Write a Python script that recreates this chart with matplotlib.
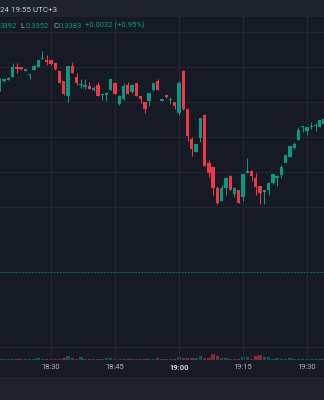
import numpy as np
import matplotlib
matplotlib.use("Agg")
import matplotlib.pyplot as plt
from matplotlib.patches import Rectangle

# ---- data (1-minute candles, 18:18 .. 19:34) ----
first_minute = -12          # minutes relative to 18:30
opens = [0.33860, 0.33869, 0.33870, 0.33873, 0.33883, 0.33883, 0.33879, 0.33875, 0.33880, 0.33883,
         0.33891, 0.33890, 0.33890, 0.33887, 0.33879, 0.33869, 0.33854, 0.33884, 0.33873, 0.33865,
         0.33863, 0.33864, 0.33860, 0.33865, 0.33855, 0.33855, 0.33860, 0.33867, 0.33846, 0.33851,
         0.33865, 0.33858, 0.33867, 0.33854, 0.33848, 0.33849, 0.33860, 0.33869, 0.33849, 0.33855,
         0.33850, 0.33848, 0.33837, 0.33879, 0.33841, 0.33811, 0.33798, 0.33812, 0.33835, 0.33787,
         0.33783, 0.33762, 0.33749, 0.33762, 0.33774, 0.33756, 0.33760, 0.33753, 0.33777, 0.33779,
         0.33772, 0.33764, 0.33758, 0.33760, 0.33767, 0.33772, 0.33775, 0.33787, 0.33793, 0.33802,
         0.33810, 0.33823, 0.33819, 0.33823, 0.33824, 0.33823, 0.33826]
highs = [0.33872, 0.33871, 0.33873, 0.33887, 0.33887, 0.33883, 0.33881, 0.33876, 0.33885, 0.33890,
         0.33899, 0.33895, 0.33890, 0.33887, 0.33879, 0.33869, 0.33884, 0.33888, 0.33877, 0.33871,
         0.33871, 0.33868, 0.33864, 0.33868, 0.33856, 0.33858, 0.33871, 0.33868, 0.33855, 0.33867,
         0.33868, 0.33866, 0.33867, 0.33854, 0.33848, 0.33857, 0.33867, 0.33871, 0.33851, 0.33855,
         0.33853, 0.33848, 0.33869, 0.33880, 0.33841, 0.33813, 0.33806, 0.33832, 0.33836, 0.33790,
         0.33783, 0.33764, 0.33765, 0.33773, 0.33775, 0.33763, 0.33760, 0.33776, 0.33792, 0.33780,
         0.33777, 0.33764, 0.33760, 0.33768, 0.33776, 0.33775, 0.33785, 0.33795, 0.33804, 0.33808,
         0.33823, 0.33824, 0.33823, 0.33828, 0.33827, 0.33830, 0.33832]
lows = [0.33859, 0.33868, 0.33870, 0.33873, 0.33877, 0.33880, 0.33879, 0.33871, 0.33880, 0.33883,
        0.33891, 0.33885, 0.33885, 0.33880, 0.33867, 0.33855, 0.33848, 0.33877, 0.33865, 0.33862,
        0.33861, 0.33861, 0.33859, 0.33854, 0.33850, 0.33849, 0.33860, 0.33856, 0.33845, 0.33850,
        0.33856, 0.33857, 0.33854, 0.33847, 0.33837, 0.33844, 0.33859, 0.33860, 0.33849, 0.33852,
        0.33846, 0.33841, 0.33835, 0.33840, 0.33809, 0.33794, 0.33798, 0.33808, 0.33784, 0.33773,
        0.33755, 0.33746, 0.33749, 0.33755, 0.33760, 0.33753, 0.33747, 0.33749, 0.33777, 0.33769,
        0.33755, 0.33746, 0.33746, 0.33755, 0.33766, 0.33764, 0.33772, 0.33787, 0.33793, 0.33801,
        0.33810, 0.33818, 0.33815, 0.33821, 0.33819, 0.33823, 0.33825]
closes = [0.33869, 0.33871, 0.33872, 0.33883, 0.33881, 0.33881, 0.33881, 0.33876, 0.33884, 0.33890,
          0.33892, 0.33888, 0.33886, 0.33881, 0.33867, 0.33856, 0.33884, 0.33877, 0.33867, 0.33866,
          0.33865, 0.33861, 0.33862, 0.33854, 0.33855, 0.33857, 0.33871, 0.33856, 0.33854, 0.33864,
          0.33856, 0.33865, 0.33854, 0.33851, 0.33841, 0.33857, 0.33867, 0.33860, 0.33851, 0.33853,
          0.33850, 0.33844, 0.33867, 0.33841, 0.33814, 0.33801, 0.33806, 0.33832, 0.33784, 0.33777,
          0.33762, 0.33747, 0.33762, 0.33772, 0.33760, 0.33762, 0.33747, 0.33776, 0.33779, 0.33774,
          0.33763, 0.33757, 0.33760, 0.33767, 0.33776, 0.33774, 0.33783, 0.33795, 0.33804, 0.33806,
          0.33820, 0.33823, 0.33823, 0.33823, 0.33824, 0.33830, 0.33831]
volumes = [1, 1, 1, 1.5, 1, 1, 1, 1, 1, 2,
           1.5, 1.5, 1, 1, 1, 2, 4.5, 2, 1.5, 3,
           1, 1, 1, 1.5, 1, 2, 2, 1, 1, 1,
           1, 1, 1.5, 1.5, 1, 1, 1, 2.5, 1, 1,
           1, 1, 3, 2, 2, 2, 2.5, 4, 2.5, 2.5,
           6, 4, 2.5, 2.5, 1, 1, 1.5, 3, 3, 1.5,
           4, 5, 3, 3, 1, 2, 1, 1, 2, 1,
           1.5, 1, 1, 1, 1, 1.5, 1]
tick_minutes = [0, 15, 30, 45, 60]
tick_labels = ["18:30", "18:45", "19:00", "19:15", "19:30"]
grid_prices = [0.33918, 0.33883, 0.33848, 0.33813, 0.33778, 0.33743, 0.33603]
prev_close = 0.33678
header_text = "24 19:55 UTC+3"
legend_parts = [("3392", "up"), ("L", "lab"), ("0.3352", "up"), ("C", "lab"),
                ("0.3383", "up"), ("+0.0032 (+0.95%)", "up")]

# ---- style ----
BG = "#161a25"
HEAD = "#1e222d"
GRID = "#232734"
UP = "#089981"
DOWN = "#f23645"
TXT = "#b2b5be"

plt.rcParams["font.family"] = ["Roboto", "DejaVu Sans"]

W, H = 324, 400
fig = plt.figure(figsize=(W / 100, H / 100), dpi=100, facecolor=BG)
fig.patches.append(Rectangle((0, 1 - 17 / H), 1, 17 / H, transform=fig.transFigure,
                             facecolor=HEAD, edgecolor="none", zorder=0))
fig.patches.append(Rectangle((0, 0), 1, 23 / H, transform=fig.transFigure,
                             facecolor="#1f222d", edgecolor="none", zorder=0))

rect = [0, 40 / H, 1, 343 / H]
vax = fig.add_axes(rect)
vax.set_facecolor(BG)
ax = fig.add_axes(rect, sharex=vax)
ax.patch.set_visible(False)

opens_a = np.array(opens)
closes_a = np.array(closes)
highs_a = np.array(highs)
lows_a = np.array(lows)
x = np.arange(len(opens)) + first_minute
up = closes_a >= opens_a
colors = np.where(up, UP, DOWN)

# volume
vax.bar(x, volumes, width=0.82, color=colors, alpha=0.5, linewidth=0)
vax.set_ylim(0, 343)
vax.set_yticks([])
for s in vax.spines.values():
    s.set_visible(False)
vax.tick_params(axis="x", length=0, labelbottom=False)

# grid
for gp in grid_prices:
    ax.axhline(gp, color=GRID, lw=0.75, zorder=0)
for tm in tick_minutes:
    ax.axvline(tm, color=GRID, lw=0.75, zorder=0)

ax.axhline(prev_close, color=UP, lw=0.75, alpha=0.6, ls=(0, (2, 1)), zorder=1)

# candles
ax.vlines(x, lows_a, highs_a, colors=colors, lw=0.75, zorder=2)
body_bottom = np.minimum(opens_a, closes_a)
body_h = np.maximum(np.abs(closes_a - opens_a), 0.000008)
ax.bar(x, body_h, bottom=body_bottom, width=0.78, color=colors, linewidth=0, zorder=3)

ax.set_xlim(-11.95, 63.98)
ax.set_ylim(0.33590, 0.33933)
ax.set_yticks([])
for s in ax.spines.values():
    s.set_visible(False)
ax.set_xticks(tick_minutes)
ax.set_xticklabels(tick_labels)
ax.tick_params(axis="x", length=0, pad=3.0, labelsize=5.4, colors=TXT)
for lbl in ax.get_xticklabels():
    if lbl.get_text() == "19:00":
        lbl.set_fontweight("bold")
        lbl.set_color("#d1d4dc")

# header texts
fig.text(0 / W, 1 - 10 / H, header_text, color="#c9cbd2", fontsize=5.8, va="center", ha="left")

# legend line: each piece placed right after the previous one
renderer = fig.canvas.get_renderer()
gaps = [0, 3.5, 0.3, 4.5, 0.3, 3.5]
cur = 0.0
for (txt, kind), gap in zip(legend_parts, gaps):
    cur += gap
    t = fig.text(cur / W, 1 - 25.5 / H, txt, color=UP if kind == "up" else TXT,
                 fontsize=5.5, va="center", ha="left")
    bb = t.get_window_extent(renderer=renderer)
    cur = bb.x1

fig.savefig("out.png", dpi=100, facecolor=BG)
